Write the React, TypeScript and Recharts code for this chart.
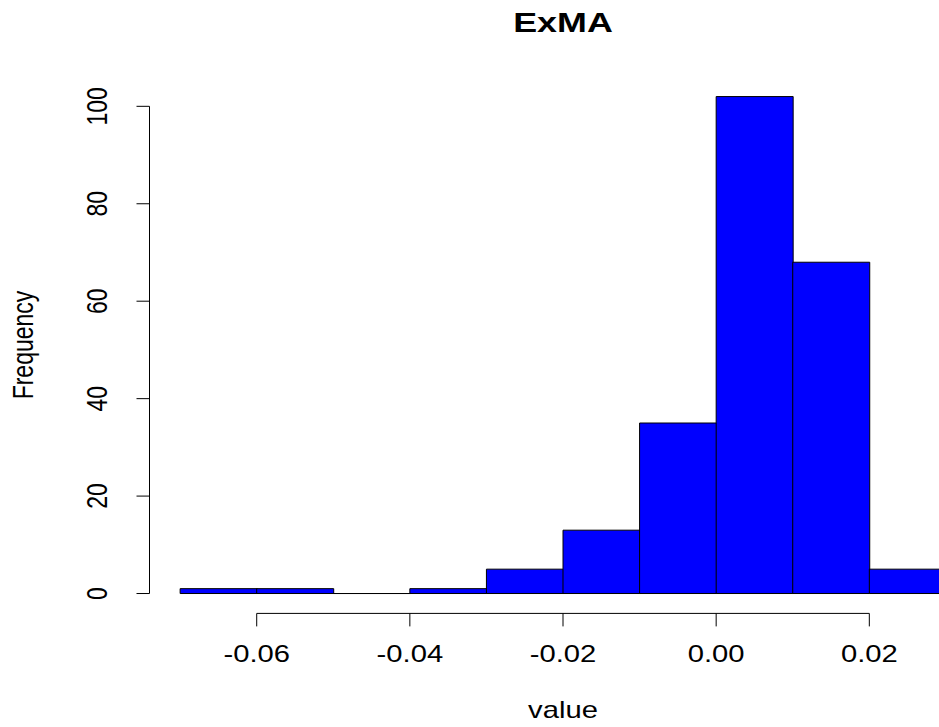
import React from 'react';
import {
  ComposedChart,
  Bar,
  XAxis,
  YAxis,
  ReferenceLine,
} from 'recharts';

// histogram bins (left edges), bin width and counts
const binStarts = [-0.07, -0.06, -0.05, -0.04, -0.03, -0.02, -0.01, 0, 0.01, 0.02];
const binWidth = 0.01;
const counts = [1, 1, 0, 1, 5, 13, 35, 102, 68, 5];

const xTicks = [-0.06, -0.04, -0.02, 0, 0.02];
const yTicks = [0, 20, 40, 60, 80, 100];

// layout (R base graphics look)
const W = 939;
const H = 727;
const PLOT_LEFT = 149.5;
const PLOT_TOP = 76.7;
const PLOT_BOTTOM = 613.4;
const X_AXIS_H = 60;
const Y_AXIS_W = 60;
const X_DOMAIN: [number, number] = [-0.074, 0.0291];
const Y_DOMAIN: [number, number] = [-4.08, 106.08];
const SX = 1.27; // the source image is stretched horizontally
const FONT = '"Liberation Sans", Arial, Helvetica, sans-serif';
const CENTER_X = 563;

const data = binStarts.map((start, i) => ({
  mid: start + binWidth / 2,
  count: counts[i],
}));

const HistBar = (props: any) => {
  const { x, y, width, height } = props;
  if (x == null || y == null) return null;
  const b = y + (height || 0);
  return (
    <path
      d={`M${x},${b} L${x},${y} L${x + width},${y} L${x + width},${b} Z`}
      fill="#0000FF"
      stroke="#000"
      strokeWidth={1}
    />
  );
};

const XTick = (props: any) => {
  const { x, y, payload } = props;
  return (
    <g transform={`translate(${x},${y + 36}) scale(${SX},1)`}>
      <text textAnchor="middle" fontSize={23} fontFamily={FONT} fill="#000">
        {Number(payload.value).toFixed(2)}
      </text>
    </g>
  );
};

const YTick = (props: any) => {
  const { x, y, payload } = props;
  return (
    <g transform={`translate(${x - 29.5},${y}) scale(${SX},1) rotate(-90)`}>
      <text textAnchor="middle" fontSize={23} fontFamily={FONT} fill="#000">
        {payload.value}
      </text>
    </g>
  );
};

export default function App() {
  return (
    <div style={{ position: 'absolute', left: 0, top: 0, width: W, height: H, background: '#fff' }}>
      <ComposedChart
        width={W}
        height={H}
        data={data}
        barCategoryGap={0}
        barGap={0}
        margin={{
          top: PLOT_TOP,
          right: 0,
          bottom: H - PLOT_BOTTOM - X_AXIS_H,
          left: PLOT_LEFT - Y_AXIS_W,
        }}
      >
        <XAxis
          type="number"
          dataKey="mid"
          domain={X_DOMAIN}
          allowDataOverflow
          ticks={xTicks}
          interval={0}
          height={X_AXIS_H}
          axisLine={false}
          tickLine={{ stroke: '#000', strokeWidth: 1 }}
          tickSize={13}
          tickMargin={0}
          tick={<XTick />}
        />
        <YAxis
          type="number"
          domain={Y_DOMAIN}
          allowDataOverflow
          ticks={yTicks}
          interval={0}
          width={Y_AXIS_W}
          axisLine={false}
          tickLine={{ stroke: '#000', strokeWidth: 1 }}
          tickSize={13}
          tickMargin={0}
          tick={<YTick />}
        />
        <Bar dataKey="count" shape={HistBar} isAnimationActive={false} />
        <ReferenceLine
          segment={[
            { x: xTicks[0], y: Y_DOMAIN[0] },
            { x: xTicks[xTicks.length - 1], y: Y_DOMAIN[0] },
          ]}
          stroke="#000"
          strokeWidth={1}
          ifOverflow="visible"
        />
        <ReferenceLine
          segment={[
            { x: X_DOMAIN[0], y: yTicks[0] },
            { x: X_DOMAIN[0], y: yTicks[yTicks.length - 1] },
          ]}
          stroke="#000"
          strokeWidth={1}
          ifOverflow="visible"
        />
      </ComposedChart>
      <svg
        width={W}
        height={H}
        style={{ position: 'absolute', left: 0, top: 0, pointerEvents: 'none' }}
      >
        <g transform={`translate(${CENTER_X},32.3) scale(1.33,1)`}>
          <text textAnchor="middle" fontSize={27} fontWeight="bold" fontFamily={FONT} fill="#000">
            ExMA
          </text>
        </g>
        <g transform={`translate(${CENTER_X},718) scale(${SX},1)`}>
          <text textAnchor="middle" fontSize={23} fontFamily={FONT} fill="#000">
            value
          </text>
        </g>
        <g transform={`translate(32.5,${(PLOT_TOP + PLOT_BOTTOM) / 2}) scale(${SX},1) rotate(-90)`}>
          <text textAnchor="middle" fontSize={23} fontFamily={FONT} fill="#000">
            Frequency
          </text>
        </g>
      </svg>
    </div>
  );
}
